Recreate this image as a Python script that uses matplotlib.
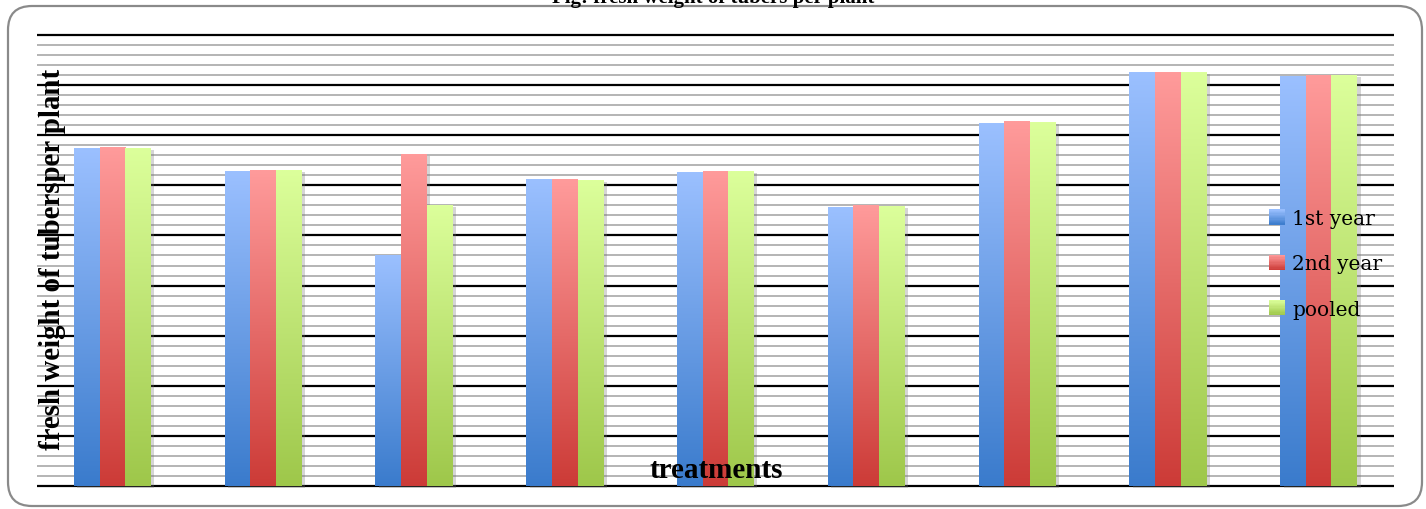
import matplotlib.pyplot as plt
import numpy as np
from matplotlib.colors import LinearSegmentedColormap
from matplotlib.legend_handler import HandlerBase
from matplotlib.patches import Rectangle, FancyBboxPatch
from matplotlib.ticker import MultipleLocator
import matplotlib.patheffects as pe

# fresh weight of tubers per plant (g), nine treatments, two seasons + pooled
treatments = ['T1', 'T2', 'T3', 'T4', 'T5', 'T6', 'T7', 'T8', 'T9']
year1 = [674, 628, 460, 612, 626, 556, 724, 826, 818]
year2 = [676, 630, 662, 612, 628, 560, 728, 826, 820]
pooled = [674, 630, 560, 610, 628, 558, 726, 826, 820]

series = [
    ('1st year', year1, '#9bc0ff', '#3a7bcc'),
    ('2nd year', year2, '#ff9b9b', '#cc3b37'),
    ('pooled', pooled, '#dcff9b', '#9ec74a'),
]

W, H = 14.26, 5.10
fig = plt.figure(figsize=(W, H), dpi=100)

# rounded frame around the whole chart
frame = FancyBboxPatch((0.08, 0.03), 14.14, 5.00,
                       boxstyle='round,pad=0,rounding_size=0.24',
                       transform=fig.dpi_scale_trans, facecolor='none',
                       edgecolor='#8a8a8a', linewidth=1.6, zorder=-1)
fig.patches.append(frame)

ax = fig.add_axes([37 / 1426, 1 - 490 / 510, 1357 / 1426, 457 / 510])
ax.patch.set_visible(False)

x = np.arange(len(treatments))
bw = 0.17


def grad_bar(ax, xc, h, top, bottom):
    rect = ax.bar(xc, h, width=bw, color=bottom, zorder=3,
                  path_effects=[pe.SimplePatchShadow(offset=(2.5, -1.5), shadow_rgbFace='#777777', alpha=0.3),
                                pe.Normal()])[0]
    cmap = LinearSegmentedColormap.from_list('g', [bottom, top])
    grad = np.linspace(0, 1, 256).reshape(-1, 1)
    im = ax.imshow(grad, cmap=cmap, origin='lower', aspect='auto',
                   extent=[xc - bw / 2, xc + bw / 2, 0, h], zorder=4)
    im.set_clip_path(rect)


for i, (name, vals, top, bottom) in enumerate(series):
    for xi, v in zip(x, vals):
        grad_bar(ax, xi + (i - 1) * bw, v, top, bottom)

ax.set_xlim(-0.5, len(treatments) - 0.5)
ax.set_ylim(-6, 906)
ax.yaxis.set_major_locator(MultipleLocator(100))
ax.yaxis.set_minor_locator(MultipleLocator(20))
ax.grid(which='minor', axis='y', color='#b4b4b4', linewidth=1.4, zorder=1)
ax.grid(which='major', axis='y', color='black', linewidth=1.6, zorder=2)
ax.grid(axis='x', visible=False)
ax.set_axisbelow(True)
ax.tick_params(which='both', length=0, labelleft=False, labelbottom=False)
ax.set_xticks(x)
for s in ax.spines.values():
    s.set_visible(False)

serif = ['Liberation Serif', 'DejaVu Serif']
ax.text(0.0114, 0.5036, 'fresh weight of tubersper plant', transform=ax.transAxes,
        rotation=90, ha='center', va='center', fontsize=20.8, fontweight='bold',
        family=serif, zorder=6)
ax.text(0.5004, 0.026, 'treatments', transform=ax.transAxes, ha='center', va='baseline',
        fontsize=21, fontweight='bold', family=serif, zorder=6)
fig.text(0.5, 1 - 3 / 510, 'Fig: fresh weight of tubers per plant', ha='center',
         va='baseline', fontsize=15, fontweight='bold', family=serif)


class GradientHandler(HandlerBase):
    def __init__(self, top, bottom, n=12):
        super().__init__()
        self.top, self.bottom, self.n = top, bottom, n

    def create_artists(self, legend, orig_handle, xdescent, ydescent,
                       width, height, fontsize, trans):
        cmap = LinearSegmentedColormap.from_list('g', [self.bottom, self.top])
        strips = []
        for k in range(self.n):
            y0 = -ydescent + height * k / self.n
            r = Rectangle((-xdescent, y0), width, height / self.n + 0.3,
                          facecolor=cmap((k + 0.5) / self.n), edgecolor='none',
                          transform=trans)
            strips.append(r)
        return strips


handles, hmap = [], {}
for name, vals, top, bottom in series:
    h = Rectangle((0, 0), 1, 1, facecolor=bottom)
    handles.append(h)
    hmap[h] = GradientHandler(top, bottom)

ax.legend(handles, [s[0] for s in series], handler_map=hmap,
          loc='center left', bbox_to_anchor=(0.908, 0.4926), frameon=False,
          prop={'family': ['DejaVu Serif'], 'size': 14.5},
          handlelength=0.8, handleheight=0.75, handletextpad=0.35,
          labelspacing=1.3, borderpad=0, borderaxespad=0).set_zorder(7)

fig.savefig('out.png', dpi=100)
